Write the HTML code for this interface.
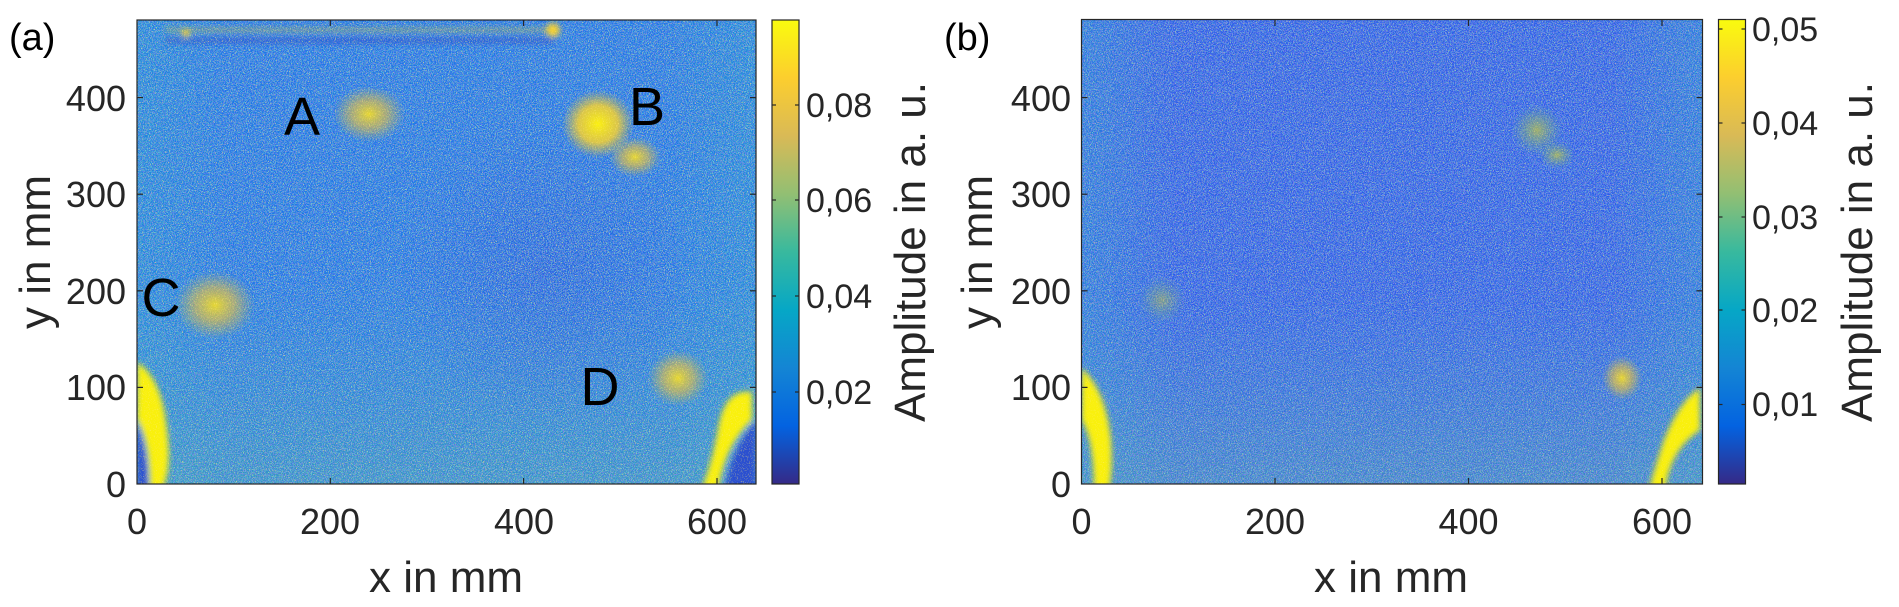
<!DOCTYPE html>
<html><head><meta charset="utf-8"><style>
html,body{margin:0;padding:0;background:#fff;}
svg{display:block;font-family:"Liberation Sans",Arial,sans-serif;}
</style></head><body>
<svg width="1899" height="607" viewBox="0 0 1899 607" xmlns="http://www.w3.org/2000/svg">
<defs>
<linearGradient id="parula" x1="0" y1="1" x2="0" y2="0">
<stop offset="0" stop-color="#352a87"/><stop offset="0.125" stop-color="#0363e1"/>
<stop offset="0.25" stop-color="#1485d4"/><stop offset="0.375" stop-color="#06a7c6"/>
<stop offset="0.5" stop-color="#38b99e"/><stop offset="0.625" stop-color="#92bf73"/>
<stop offset="0.75" stop-color="#d9ba56"/><stop offset="0.875" stop-color="#fcce2e"/>
<stop offset="1" stop-color="#f9fb0e"/></linearGradient>
<filter id="ng" x="0" y="0" width="100%" height="100%"><feTurbulence type="fractalNoise" baseFrequency="0.95" numOctaves="2" seed="3"/><feColorMatrix type="matrix" values="0 0 0 0 0.2 0 0 0 0 0.75 0 0 0 0 0.7 6 0 0 0 -3.1"/></filter>
<filter id="nd" x="0" y="0" width="100%" height="100%"><feTurbulence type="fractalNoise" baseFrequency="0.9" numOctaves="2" seed="7"/><feColorMatrix type="matrix" values="0 0 0 0 0.2 0 0 0 0 0.2 0 0 0 0 0.9 0 6 0 0 -3.0"/></filter>
<filter id="ny" x="0" y="0" width="100%" height="100%"><feTurbulence type="fractalNoise" baseFrequency="0.85" numOctaves="2" seed="11"/><feColorMatrix type="matrix" values="0 0 0 0 0.98 0 0 0 0 0.85 0 0 0 0 0.2 0 0 6 0 -3.5"/></filter>
<radialGradient id="ya"><stop offset="0" stop-color="#f9e020" stop-opacity="0.9"/><stop offset="0.5" stop-color="#e8c040" stop-opacity="0.6"/><stop offset="1" stop-color="#d0c050" stop-opacity="0"/></radialGradient>
<radialGradient id="yb"><stop offset="0" stop-color="#fbf010" stop-opacity="1"/><stop offset="0.55" stop-color="#f5d030" stop-opacity="0.85"/><stop offset="1" stop-color="#e0c040" stop-opacity="0"/></radialGradient>
<radialGradient id="gb"><stop offset="0" stop-color="#b8c050" stop-opacity="0.8"/><stop offset="1" stop-color="#60b090" stop-opacity="0"/></radialGradient>
<radialGradient id="dk" cx="0.55" cy="0.5" r="0.5"><stop offset="0" stop-color="#2850d8" stop-opacity="0.45"/><stop offset="1" stop-color="#2850d8" stop-opacity="0"/></radialGradient>
<linearGradient id="botA" x1="0" y1="0" x2="0" y2="1"><stop offset="0" stop-color="#30b0b8" stop-opacity="0"/><stop offset="1" stop-color="#50b8a0" stop-opacity="0.45"/></linearGradient>
<linearGradient id="sideB" x1="0" y1="0" x2="1" y2="0"><stop offset="0" stop-color="#20a0d0" stop-opacity="0.45"/><stop offset="0.15" stop-color="#20a0d0" stop-opacity="0"/><stop offset="0.85" stop-color="#20a0d0" stop-opacity="0"/><stop offset="1" stop-color="#20a0d0" stop-opacity="0.45"/></linearGradient>
<filter id="bl2"><feGaussianBlur stdDeviation="3"/></filter>
<clipPath id="ca"><rect x="137" y="20" width="619" height="464"/></clipPath>
<clipPath id="cb"><rect x="1081.5" y="19.5" width="621" height="464.5"/></clipPath>
</defs>

<!-- Panel A -->
<g clip-path="url(#ca)">
<rect x="137" y="20" width="619" height="464" fill="#1c78e6"/>
<rect x="137" y="20" width="619" height="464" fill="url(#sideB)"/>
<rect x="137" y="280" width="619" height="204" fill="url(#botA)"/>
<ellipse cx="530" cy="270" rx="150" ry="160" fill="url(#dk)"/>
<rect x="137" y="20" width="619" height="464" filter="url(#ng)" opacity="0.75"/>
<rect x="137" y="20" width="619" height="464" filter="url(#nd)" opacity="0.8"/>
<ellipse cx="369" cy="114" rx="36" ry="28" fill="url(#ya)"/>
<ellipse cx="598" cy="124" rx="36" ry="34" fill="url(#yb)"/>
<ellipse cx="635" cy="157" rx="26" ry="20" fill="url(#ya)"/>
<ellipse cx="215" cy="305" rx="40" ry="34" fill="url(#ya)"/>
<ellipse cx="678" cy="378" rx="30" ry="28" fill="url(#ya)"/>
<g filter="url(#bl2)">
<path d="M137,362 Q162,378 167,430 Q172,470 162,490 L150,490 Q150,440 137,420Z" fill="#f9f010"/>
<path d="M752,392 Q724,388 718,430 Q710,470 701,490 L718,490 Q725,445 752,420Z" fill="#f9f010"/>
<path d="M137,420 Q148,450 148,490 L137,490Z" fill="#2a4fd0"/>
<path d="M756,420 Q730,450 725,490 L756,490Z" fill="#2a4fd0"/>
<rect x="165" y="28" width="390" height="4" fill="#c8c040" opacity="0.5"/>
<rect x="165" y="38" width="390" height="5" fill="#3040c0" opacity="0.5"/>
<circle cx="553" cy="30" r="7" fill="#f5d030"/>
<circle cx="186" cy="33" r="4" fill="#f5d030"/>
</g>
<rect x="137" y="20" width="619" height="464" filter="url(#ny)" opacity="0.6"/>
</g>
<rect x="137" y="20" width="619" height="464" fill="none" stroke="#262626" stroke-width="1.2"/>
<g stroke="#262626" stroke-width="1.2">
<line x1="330.3" y1="484" x2="330.3" y2="478"/><line x1="523.6" y1="484" x2="523.6" y2="478"/><line x1="717" y1="484" x2="717" y2="478"/>
<line x1="330.3" y1="20" x2="330.3" y2="26"/><line x1="523.6" y1="20" x2="523.6" y2="26"/><line x1="717" y1="20" x2="717" y2="26"/>
<line x1="137" y1="387.4" x2="143" y2="387.4"/><line x1="137" y1="290.8" x2="143" y2="290.8"/><line x1="137" y1="194.2" x2="143" y2="194.2"/><line x1="137" y1="97.6" x2="143" y2="97.6"/>
<line x1="756" y1="387.4" x2="750" y2="387.4"/><line x1="756" y1="290.8" x2="750" y2="290.8"/><line x1="756" y1="194.2" x2="750" y2="194.2"/><line x1="756" y1="97.6" x2="750" y2="97.6"/>
</g>
<g font-size="36" fill="#262626" text-anchor="end">
<text x="126" y="497">0</text><text x="126" y="400">100</text><text x="126" y="304">200</text><text x="126" y="207">300</text><text x="126" y="111">400</text>
</g>
<g font-size="36" fill="#262626" text-anchor="middle">
<text x="137" y="534">0</text><text x="330" y="534">200</text><text x="524" y="534">400</text><text x="717" y="534">600</text>
</g>
<text x="446" y="592" font-size="44" fill="#262626" text-anchor="middle">x in mm</text>
<text transform="translate(50,252) rotate(-90)" font-size="44" fill="#262626" text-anchor="middle">y in mm</text>
<text x="9" y="50" font-size="38" fill="#000">(a)</text>
<g font-size="54" fill="#000" text-anchor="middle">
<text x="302" y="135">A</text><text x="647" y="125">B</text><text x="161" y="316">C</text><text x="600" y="405">D</text>
</g>
<rect x="772" y="20" width="27" height="464" fill="url(#parula)" stroke="#262626" stroke-width="1.2"/>
<g stroke="#262626" stroke-width="1.2">
<line x1="772" y1="105" x2="776" y2="105"/><line x1="799" y1="105" x2="795" y2="105"/>
<line x1="772" y1="200" x2="776" y2="200"/><line x1="799" y1="200" x2="795" y2="200"/>
<line x1="772" y1="296" x2="776" y2="296"/><line x1="799" y1="296" x2="795" y2="296"/>
<line x1="772" y1="392" x2="776" y2="392"/><line x1="799" y1="392" x2="795" y2="392"/>
</g>
<g font-size="34" fill="#262626">
<text x="806" y="117">0,08</text><text x="806" y="212">0,06</text><text x="806" y="308">0,04</text><text x="806" y="404">0,02</text>
</g>
<text transform="translate(925,252) rotate(-90)" font-size="44" fill="#262626" text-anchor="middle">Amplitude in a. u.</text>

<!-- Panel B -->
<g clip-path="url(#cb)">
<rect x="1081.5" y="19.5" width="621" height="465" fill="#2a5ee8"/>
<rect x="1081.5" y="19.5" width="621" height="465" fill="url(#sideB)"/>
<rect x="1081.5" y="300" width="621" height="184" fill="url(#botA)"/>
<rect x="1081.5" y="19.5" width="621" height="465" filter="url(#ng)" opacity="0.7"/>
<rect x="1081.5" y="19.5" width="621" height="465" filter="url(#nd)" opacity="0.9"/>
<ellipse cx="1537" cy="130" rx="26" ry="26" fill="url(#gb)"/>
<ellipse cx="1557" cy="155" rx="18" ry="14" fill="url(#gb)"/>
<ellipse cx="1162" cy="300" rx="24" ry="24" fill="url(#gb)" opacity="0.7"/>
<ellipse cx="1622" cy="378" rx="20" ry="22" fill="url(#ya)"/>
<g filter="url(#bl2)">
<path d="M1081.5,368 Q1106,390 1111,440 Q1113,470 1109,490 L1094,490 Q1094,440 1081.5,420Z" fill="#f9f010"/>
<path d="M1700,388 Q1680,400 1664,440 Q1654,470 1649,490 L1665,490 Q1670,450 1700,430Z" fill="#f9f010"/>
</g>
<rect x="1081.5" y="19.5" width="621" height="465" filter="url(#ny)" opacity="0.5"/>
</g>
<rect x="1081.5" y="19.5" width="621" height="464.5" fill="none" stroke="#262626" stroke-width="1.2"/>
<g stroke="#262626" stroke-width="1.2">
<line x1="1275" y1="484" x2="1275" y2="478"/><line x1="1468.5" y1="484" x2="1468.5" y2="478"/><line x1="1662" y1="484" x2="1662" y2="478"/>
<line x1="1275" y1="20" x2="1275" y2="26"/><line x1="1468.5" y1="20" x2="1468.5" y2="26"/><line x1="1662" y1="20" x2="1662" y2="26"/>
<line x1="1081.5" y1="387.4" x2="1087.5" y2="387.4"/><line x1="1081.5" y1="290.8" x2="1087.5" y2="290.8"/><line x1="1081.5" y1="194.2" x2="1087.5" y2="194.2"/><line x1="1081.5" y1="97.6" x2="1087.5" y2="97.6"/>
<line x1="1702.5" y1="387.4" x2="1696.5" y2="387.4"/><line x1="1702.5" y1="290.8" x2="1696.5" y2="290.8"/><line x1="1702.5" y1="194.2" x2="1696.5" y2="194.2"/><line x1="1702.5" y1="97.6" x2="1696.5" y2="97.6"/>
</g>
<g font-size="36" fill="#262626" text-anchor="end">
<text x="1071" y="497">0</text><text x="1071" y="400">100</text><text x="1071" y="304">200</text><text x="1071" y="207">300</text><text x="1071" y="111">400</text>
</g>
<g font-size="36" fill="#262626" text-anchor="middle">
<text x="1081.5" y="534">0</text><text x="1275" y="534">200</text><text x="1468.5" y="534">400</text><text x="1662" y="534">600</text>
</g>
<text x="1391" y="592" font-size="44" fill="#262626" text-anchor="middle">x in mm</text>
<text transform="translate(992,252) rotate(-90)" font-size="44" fill="#262626" text-anchor="middle">y in mm</text>
<text x="944" y="50" font-size="38" fill="#000">(b)</text>
<rect x="1718.5" y="19.5" width="27" height="464.5" fill="url(#parula)" stroke="#262626" stroke-width="1.2"/>
<g stroke="#262626" stroke-width="1.2">
<line x1="1718.5" y1="29" x2="1722.5" y2="29"/><line x1="1745.5" y1="29" x2="1741.5" y2="29"/>
<line x1="1718.5" y1="123" x2="1722.5" y2="123"/><line x1="1745.5" y1="123" x2="1741.5" y2="123"/>
<line x1="1718.5" y1="217" x2="1722.5" y2="217"/><line x1="1745.5" y1="217" x2="1741.5" y2="217"/>
<line x1="1718.5" y1="310" x2="1722.5" y2="310"/><line x1="1745.5" y1="310" x2="1741.5" y2="310"/>
<line x1="1718.5" y1="404.5" x2="1722.5" y2="404.5"/><line x1="1745.5" y1="404.5" x2="1741.5" y2="404.5"/>
</g>
<g font-size="34" fill="#262626">
<text x="1752" y="41">0,05</text><text x="1752" y="135">0,04</text><text x="1752" y="229">0,03</text><text x="1752" y="322">0,02</text><text x="1752" y="416">0,01</text>
</g>
<text transform="translate(1872,252) rotate(-90)" font-size="44" fill="#262626" text-anchor="middle">Amplitude in a. u.</text>
</svg>
</body></html>
